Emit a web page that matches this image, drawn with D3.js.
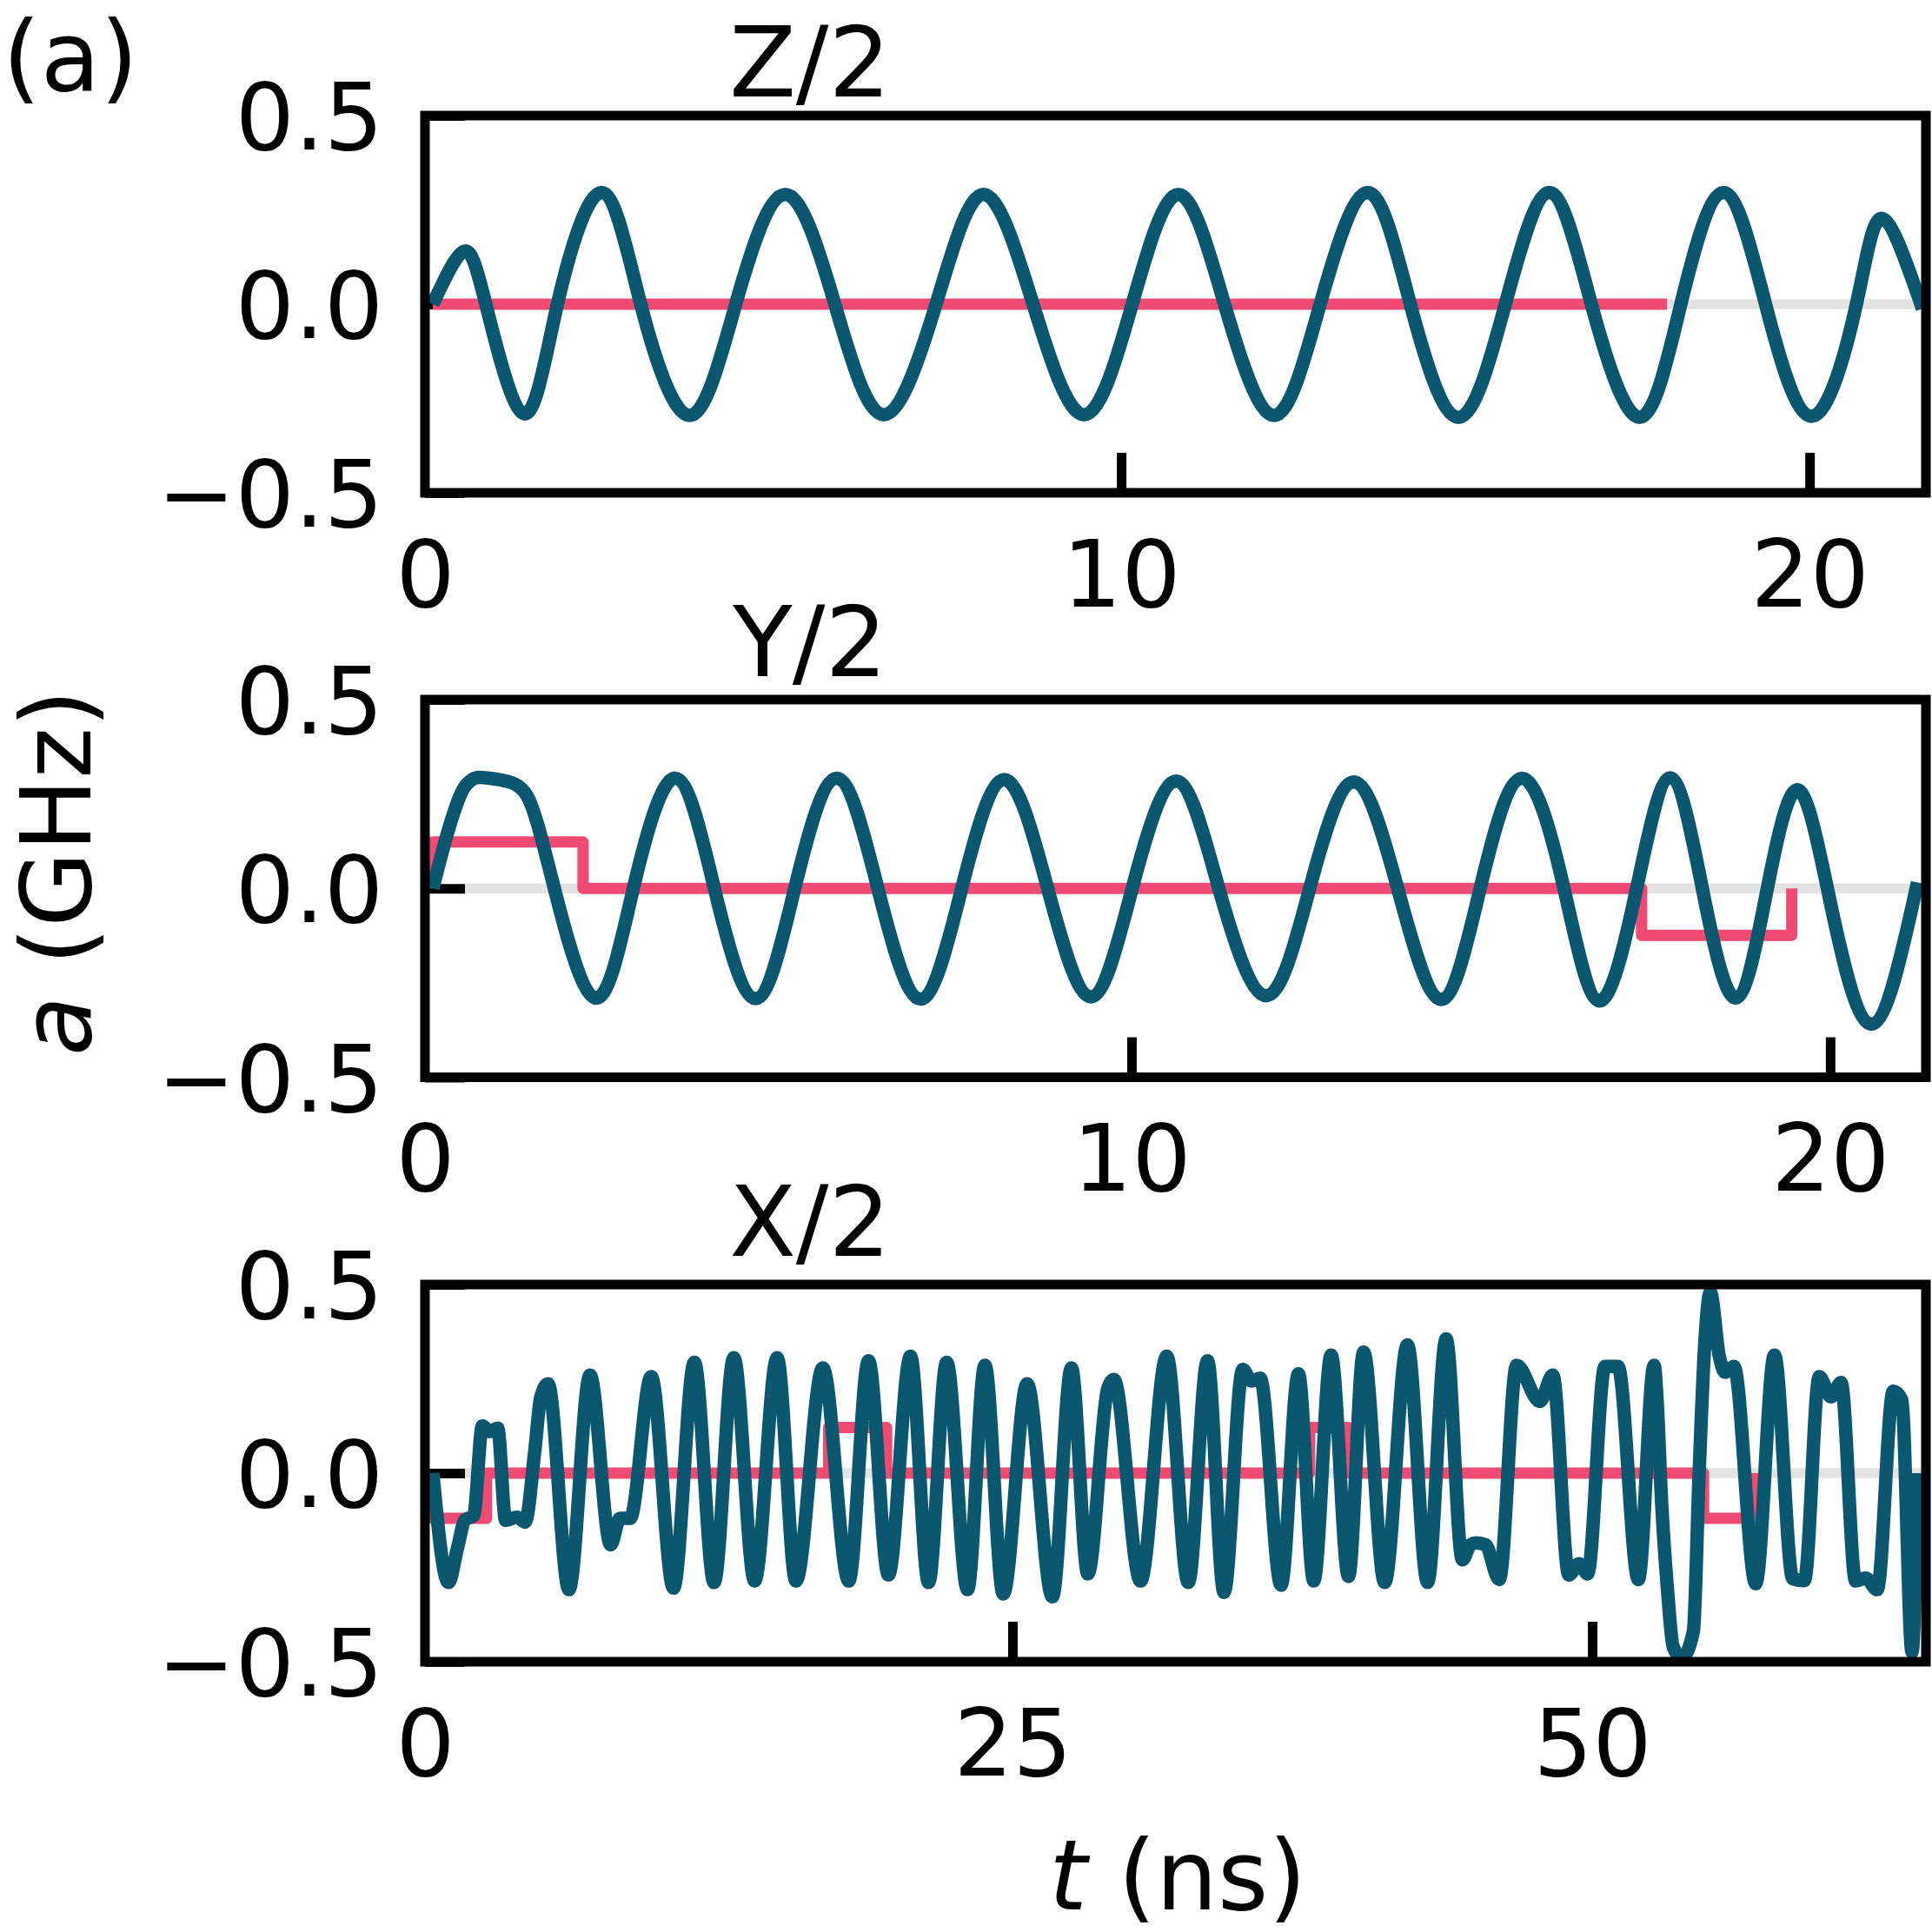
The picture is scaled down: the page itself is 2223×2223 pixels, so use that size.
<!DOCTYPE html>
<html>
<head>
<meta charset="utf-8">
<script src="https://cdn.jsdelivr.net/npm/d3@7"></script>
<style>
html, body { margin: 0; padding: 0; background: #ffffff; }
svg { display: block; }
</style>
</head>
<body>
<svg id="chart" width="2223" height="2223"></svg>
<script>
// ---------------- DATA ----------------
const panelTitles = ["Z/2", "Y/2", "X/2"];
const xTickValues = [[0, 10, 20], [0, 10, 20], [0, 25, 50]];
const yTickValues = [-0.5, 0, 0.5];
const yTickLabels = ["\u22120.5", "0.0", "0.5"];
const xDomains = [[-0.114, 21.69], [-0.112, 21.37], [-0.337, 64.39]];

// Z/2 : simulated amplitude (teal) and pulse (red)
const zTime = [0, 0.44, 0.77, 1.32, 1.81, 2.45, 3.02, 3.73, 4.40, 5.12, 5.84, 6.55, 7.31, 8.00, 8.72, 9.46, 10.16, 10.83, 11.50, 12.22, 12.89, 13.58, 14.20, 14.90, 15.58, 16.22, 16.83, 17.53, 18.13, 18.75, 19.36, 20.04, 20.68, 21.06, 21.64];
const zAmp  = [0, 0.139, 0, -0.290, 0, 0.296, 0, -0.295, 0, 0.291, 0, -0.293, 0, 0.291, 0, -0.293, 0, 0.291, 0, -0.295, 0, 0.296, 0, -0.300, 0, 0.296, 0, -0.300, 0, 0.296, 0, -0.297, 0, 0.227, -0.012];
const zPulseTime = [0, 17.93];
const zPulseAmp  = [0, 0];

// Y/2
const yTime = [0, 0.20, 0.40, 0.52, 0.65, 0.95, 1.17, 1.35, 1.50, 1.74, 2.32, 2.87, 3.47, 4.03, 4.62, 5.18, 5.78, 6.37, 6.98, 7.57, 8.18, 8.80, 9.42, 10.01, 10.64, 11.25, 11.93, 12.55, 13.18, 13.81, 14.43, 14.99, 15.59, 16.19, 16.70, 17.23, 17.71, 18.17, 18.65, 19.10, 19.52, 19.96, 20.58, 21.25];
const yAmp  = [0, 0.14, 0.25, 0.282, 0.294, 0.288, 0.277, 0.245, 0.17, 0, -0.290, 0, 0.292, 0, -0.292, 0, 0.292, 0, -0.293, 0, 0.288, 0, -0.287, 0, 0.284, 0, -0.284, 0, 0.282, 0, -0.294, 0, 0.292, 0, -0.298, 0, 0.293, 0, -0.290, 0, 0.261, 0, -0.359, 0.016];
const yPulseTime = [0, 0, 2.15, 17.30, 19.45];
const yPulseAmp  = [0, 0.123, 0, -0.124, 0];

// X/2
const xTime = [0, 0.675, 1.07, 1.39, 1.76, 2.14, 2.45, 2.80, 3.14, 3.63, 3.98, 4.40, 4.65, 4.97, 5.87, 6.78, 7.67, 8.07, 8.51, 9.42,
  10.38, 11.28, 12.13, 12.98, 13.88, 14.85, 15.66, 16.82, 17.94, 18.79, 19.65, 20.60, 21.38, 22.16, 23.06, 23.81, 24.60, 25.63, 26.72, 27.54,
  28.25, 29.11, 29.37, 30.52, 31.65, 32.58, 33.41, 34.12, 34.93, 35.31, 35.68, 36.58, 37.33, 37.99, 38.74, 39.49, 40.14, 41.05, 42.03, 42.90,
  43.70, 44.40, 44.75, 45.00, 45.40, 45.99, 46.74, 47.74, 48.30, 48.99, 49.43, 49.80, 50.55, 51.11, 51.99, 52.67, 52.80, 52.99, 53.24, 53.49,
  53.86, 54.36, 54.61, 54.86, 55.09, 55.48, 55.73, 56.11, 57.05, 57.86, 58.65, 59.15, 59.79, 60.30, 60.73, 61.36, 61.79, 62.29, 62.98, 63.35,
  63.79, 64.04];
const xAmp = [0, -0.29, -0.197, -0.124, -0.113, 0.125, 0.11, 0.119, -0.125, -0.117, -0.13, 0.06, 0.20, 0.237, -0.309, 0.26, -0.19, -0.12, -0.12, 0.256,
  -0.305, 0.294, -0.29, 0.306, -0.286, 0.306, -0.286, 0.279, -0.286, 0.298, -0.27, 0.31, -0.29, 0.294, -0.309, 0.286, -0.32, 0.237, -0.328, 0.279,
  -0.267, 0.225, 0.248, -0.286, 0.31, -0.29, 0.298, -0.316, 0.275, 0.244, 0.252, -0.297, 0.263, -0.286, 0.313, -0.274, 0.321, -0.29, 0.34, -0.29,
  0.356, -0.23, -0.19, -0.185, -0.19, -0.282, 0.286, 0.19, 0.26, -0.27, -0.24, -0.267, 0.283, 0.283, -0.282, 0.286, 0.19, -0.075, -0.305, -0.46,
  -0.49, -0.42, 0.0, 0.35, 0.48, 0.31, 0.267, 0.283, -0.293, 0.313, -0.28, -0.285, 0.256, 0.202, 0.24, -0.286, -0.278, -0.309, 0.217, 0.194,
  -0.474, 0.0];
const xPulseTime = [0, 0, 2.32, 17.07, 19.57, 37.81, 39.49, 54.80, 56.98];
const xPulseAmp  = [0, -0.12, 0, 0.121, 0, 0.121, 0, -0.12, 0];

// ---------------- LAYOUT / STYLE ----------------
const W = 2223, H = 2223;
const FONT = "DejaVu Sans, Liberation Sans, sans-serif";
const TEAL = "#0c5770", RED = "#ef4a71", GREY = "#e3e3e3";
const axLeft = 489, axRight = 2216;
const axTops = [133, 805, 1478];
const axBottoms = [567, 1239.5, 1912];
const titleBaselines = [111, 778, 1445];
const spineW = 11, tickLen = 46;
const tickFont = 107, labelFont = 112;

const svg = d3.select("#chart");
svg.append("rect").attr("width", W).attr("height", H).attr("fill", "#fff");

const zip = (a, b) => a.map((v, i) => [v, b[i]]);
const panels = [
  { amp: zip(zTime, zAmp), pulse: zip(zPulseTime, zPulseAmp), curve: d3.curveNatural },
  { amp: zip(yTime, yAmp), pulse: zip(yPulseTime, yPulseAmp), curve: d3.curveNatural },
  { amp: zip(xTime, xAmp), pulse: zip(xPulseTime, xPulseAmp), curve: d3.curveMonotoneX }
];

panels.forEach((p, i) => {
  const top = axTops[i], bottom = axBottoms[i];
  const x = d3.scaleLinear().domain(xDomains[i]).range([axLeft, axRight]);
  const y = d3.scaleLinear().domain([-0.5, 0.5]).range([bottom, top]);
  const g = svg.append("g");

  const clipId = "clip" + i;
  svg.append("clipPath").attr("id", clipId)
    .append("rect").attr("x", axLeft).attr("y", top)
    .attr("width", axRight - axLeft).attr("height", bottom - top);

  // grey zero line
  g.append("line")
    .attr("x1", axLeft).attr("x2", axRight)
    .attr("y1", y(0)).attr("y2", y(0))
    .attr("stroke", GREY).attr("stroke-width", 11.5);

  // y axis (inward ticks)
  const yAxis = d3.axisLeft(y).tickValues(yTickValues)
    .tickFormat((d, k) => yTickLabels[k]).tickSize(-tickLen).tickPadding(48);
  const gy = g.append("g").attr("transform", `translate(${axLeft},0)`).call(yAxis);
  gy.select(".domain").remove();
  gy.selectAll(".tick line").attr("stroke", "#000").attr("stroke-width", spineW);
  gy.selectAll(".tick text").attr("font-family", FONT).attr("font-size", tickFont)
    .attr("fill", "#000").attr("dy", "0.36em");

  // x axis (inward ticks)
  const xAxis = d3.axisBottom(x).tickValues(xTickValues[i]).tickSize(-tickLen).tickPadding(55);
  const gx = g.append("g").attr("transform", `translate(0,${bottom})`).call(xAxis);
  gx.select(".domain").remove();
  gx.selectAll(".tick line").attr("stroke", "#000").attr("stroke-width", spineW);
  gx.selectAll(".tick text").attr("font-family", FONT).attr("font-size", tickFont).attr("fill", "#000");
  gx.selectAll(".tick").filter(d => d === 0).each(function () {
    d3.select(this).select("line").remove();
    d3.select(this).select("text").attr("x", axLeft - x(0));
  });

  // pulse (red step line)
  const stepLine = d3.line().x(d => x(d[0])).y(d => y(d[1])).curve(d3.curveStepAfter);
  g.append("path").datum(p.pulse)
    .attr("clip-path", `url(#${clipId})`)
    .attr("d", stepLine)
    .attr("fill", "none").attr("stroke", RED).attr("stroke-width", 13)
    .attr("stroke-linejoin", "round").attr("stroke-linecap", "butt");

  // amplitude (teal)
  const ampLine = d3.line().x(d => x(d[0])).y(d => y(d[1])).curve(p.curve);
  g.append("path").datum(p.amp)
    .attr("clip-path", `url(#${clipId})`)
    .attr("d", ampLine)
    .attr("fill", "none").attr("stroke", TEAL).attr("stroke-width", 15.5)
    .attr("stroke-linejoin", "round").attr("stroke-linecap", "butt");

  // frame
  g.append("rect")
    .attr("x", axLeft).attr("y", top)
    .attr("width", axRight - axLeft).attr("height", bottom - top)
    .attr("fill", "none").attr("stroke", "#000").attr("stroke-width", spineW);

  // title
  svg.append("text").attr("x", 932).attr("y", titleBaselines[i])
    .attr("text-anchor", "middle").attr("font-family", FONT).attr("font-size", labelFont)
    .attr("fill", "#000").text(panelTitles[i]);
});

// panel tag
svg.append("text").attr("x", 3).attr("y", 104)
  .attr("font-family", FONT).attr("font-size", labelFont).attr("fill", "#000").text("(a)");

// y label
const yl = svg.append("text")
  .attr("transform", "translate(104,1004) rotate(-90)")
  .attr("text-anchor", "middle").attr("font-family", FONT).attr("font-size", labelFont).attr("fill", "#000");
yl.append("tspan").attr("font-style", "italic").text("a");
yl.append("tspan").text(" (GHz)");

// x label
const xl = svg.append("text")
  .attr("x", 1355).attr("y", 2197)
  .attr("text-anchor", "middle").attr("font-family", FONT).attr("font-size", labelFont).attr("fill", "#000");
xl.append("tspan").attr("font-style", "italic").text("t");
xl.append("tspan").text(" (ns)");
</script>
</body>
</html>
